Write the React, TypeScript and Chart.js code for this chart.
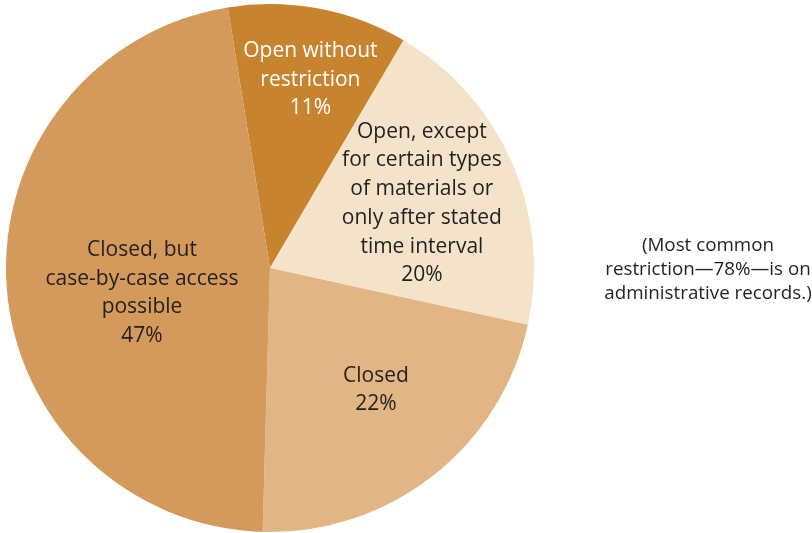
import React, { useEffect, useRef } from "react";
import { Chart, registerables } from "chart.js";

Chart.register(...registerables);

const categories = [
  "Open without restriction",
  "Open, except for certain types of materials or only after stated time interval",
  "Closed",
  "Closed, but case-by-case access possible",
];
const values = [11, 20, 22, 47];
const labelLines = [
  ["Open without", "restriction", "11%"],
  ["Open, except", "for certain types", "of materials or", "only after stated", "time interval", "20%"],
  ["Closed", "22%"],
  ["Closed, but", "case-by-case access", "possible", "47%"],
];
const note = ["(Most common", "restriction\u201478%\u2014is on", "administrative records.)"];

const colors = ["#C8832F", "#F4E2C9", "#E1B584", "#D49A5B"];
const textColors = ["#FFFFFF", "#231F20", "#231F20", "#231F20"];
const radialFrac = [0.73, 0.625, 0.612, 0.494];
const angleOffsetDeg = [1.5, 0.6, -3, -7.25];
const FONT = "'Open Sans', 'Noto Sans', sans-serif";

const labelPlugin = {
  id: "sliceLabels",
  afterDatasetsDraw(chart: any) {
    const ctx = chart.ctx;
    const meta = chart.getDatasetMeta(0);
    ctx.save();
    ctx.textAlign = "center";
    ctx.textBaseline = "middle";
    meta.data.forEach((arc: any, i: number) => {
      const p = arc.getProps(["x", "y", "startAngle", "endAngle", "outerRadius"], true);
      const mid = (p.startAngle + p.endAngle) / 2 + (angleOffsetDeg[i] * Math.PI) / 180;
      const r = p.outerRadius * radialFrac[i];
      const cx = p.x + Math.cos(mid) * r;
      const cy = p.y + Math.sin(mid) * r;
      const lines = labelLines[i];
      const lh = 28.7;
      ctx.fillStyle = textColors[i];
      ctx.font = `21px ${FONT}`;
      lines.forEach((t, k) => {
        ctx.fillText(t, cx, cy + (k - (lines.length - 1) / 2) * lh);
      });
    });
    // note to the right
    const area = chart.chartArea;
    const nx = (area.right + chart.width) / 2 + 35;
    const ny = (area.top + area.bottom) / 2 + 2;
    ctx.fillStyle = "#231F20";
    ctx.font = `18.8px ${FONT}`;
    note.forEach((t, k) => {
      ctx.fillText(t, nx, ny + (k - (note.length - 1) / 2) * 24);
    });
    ctx.restore();
  },
};

export default function App() {
  const ref = useRef<HTMLCanvasElement | null>(null);
  useEffect(() => {
    document.body.style.margin = "0";
    const chart = new Chart(ref.current!, {
      type: "pie",
      data: {
        labels: categories,
        datasets: [
          {
            data: values,
            backgroundColor: colors,
            borderWidth: 0,
          },
        ],
      },
      options: {
        animation: false,
        responsive: false,
        rotation: -9.2,
        layout: { padding: { left: 6, right: 278, top: 4, bottom: 1 } },
        plugins: {
          legend: { display: false },
          tooltip: { enabled: false },
        },
      },
      plugins: [labelPlugin],
    });
    return () => chart.destroy();
  }, []);
  return (
    <div style={{ width: 812, height: 533, background: "#fff" }}>
      <canvas ref={ref} width={812} height={533} style={{ width: 812, height: 533 }} />
    </div>
  );
}
